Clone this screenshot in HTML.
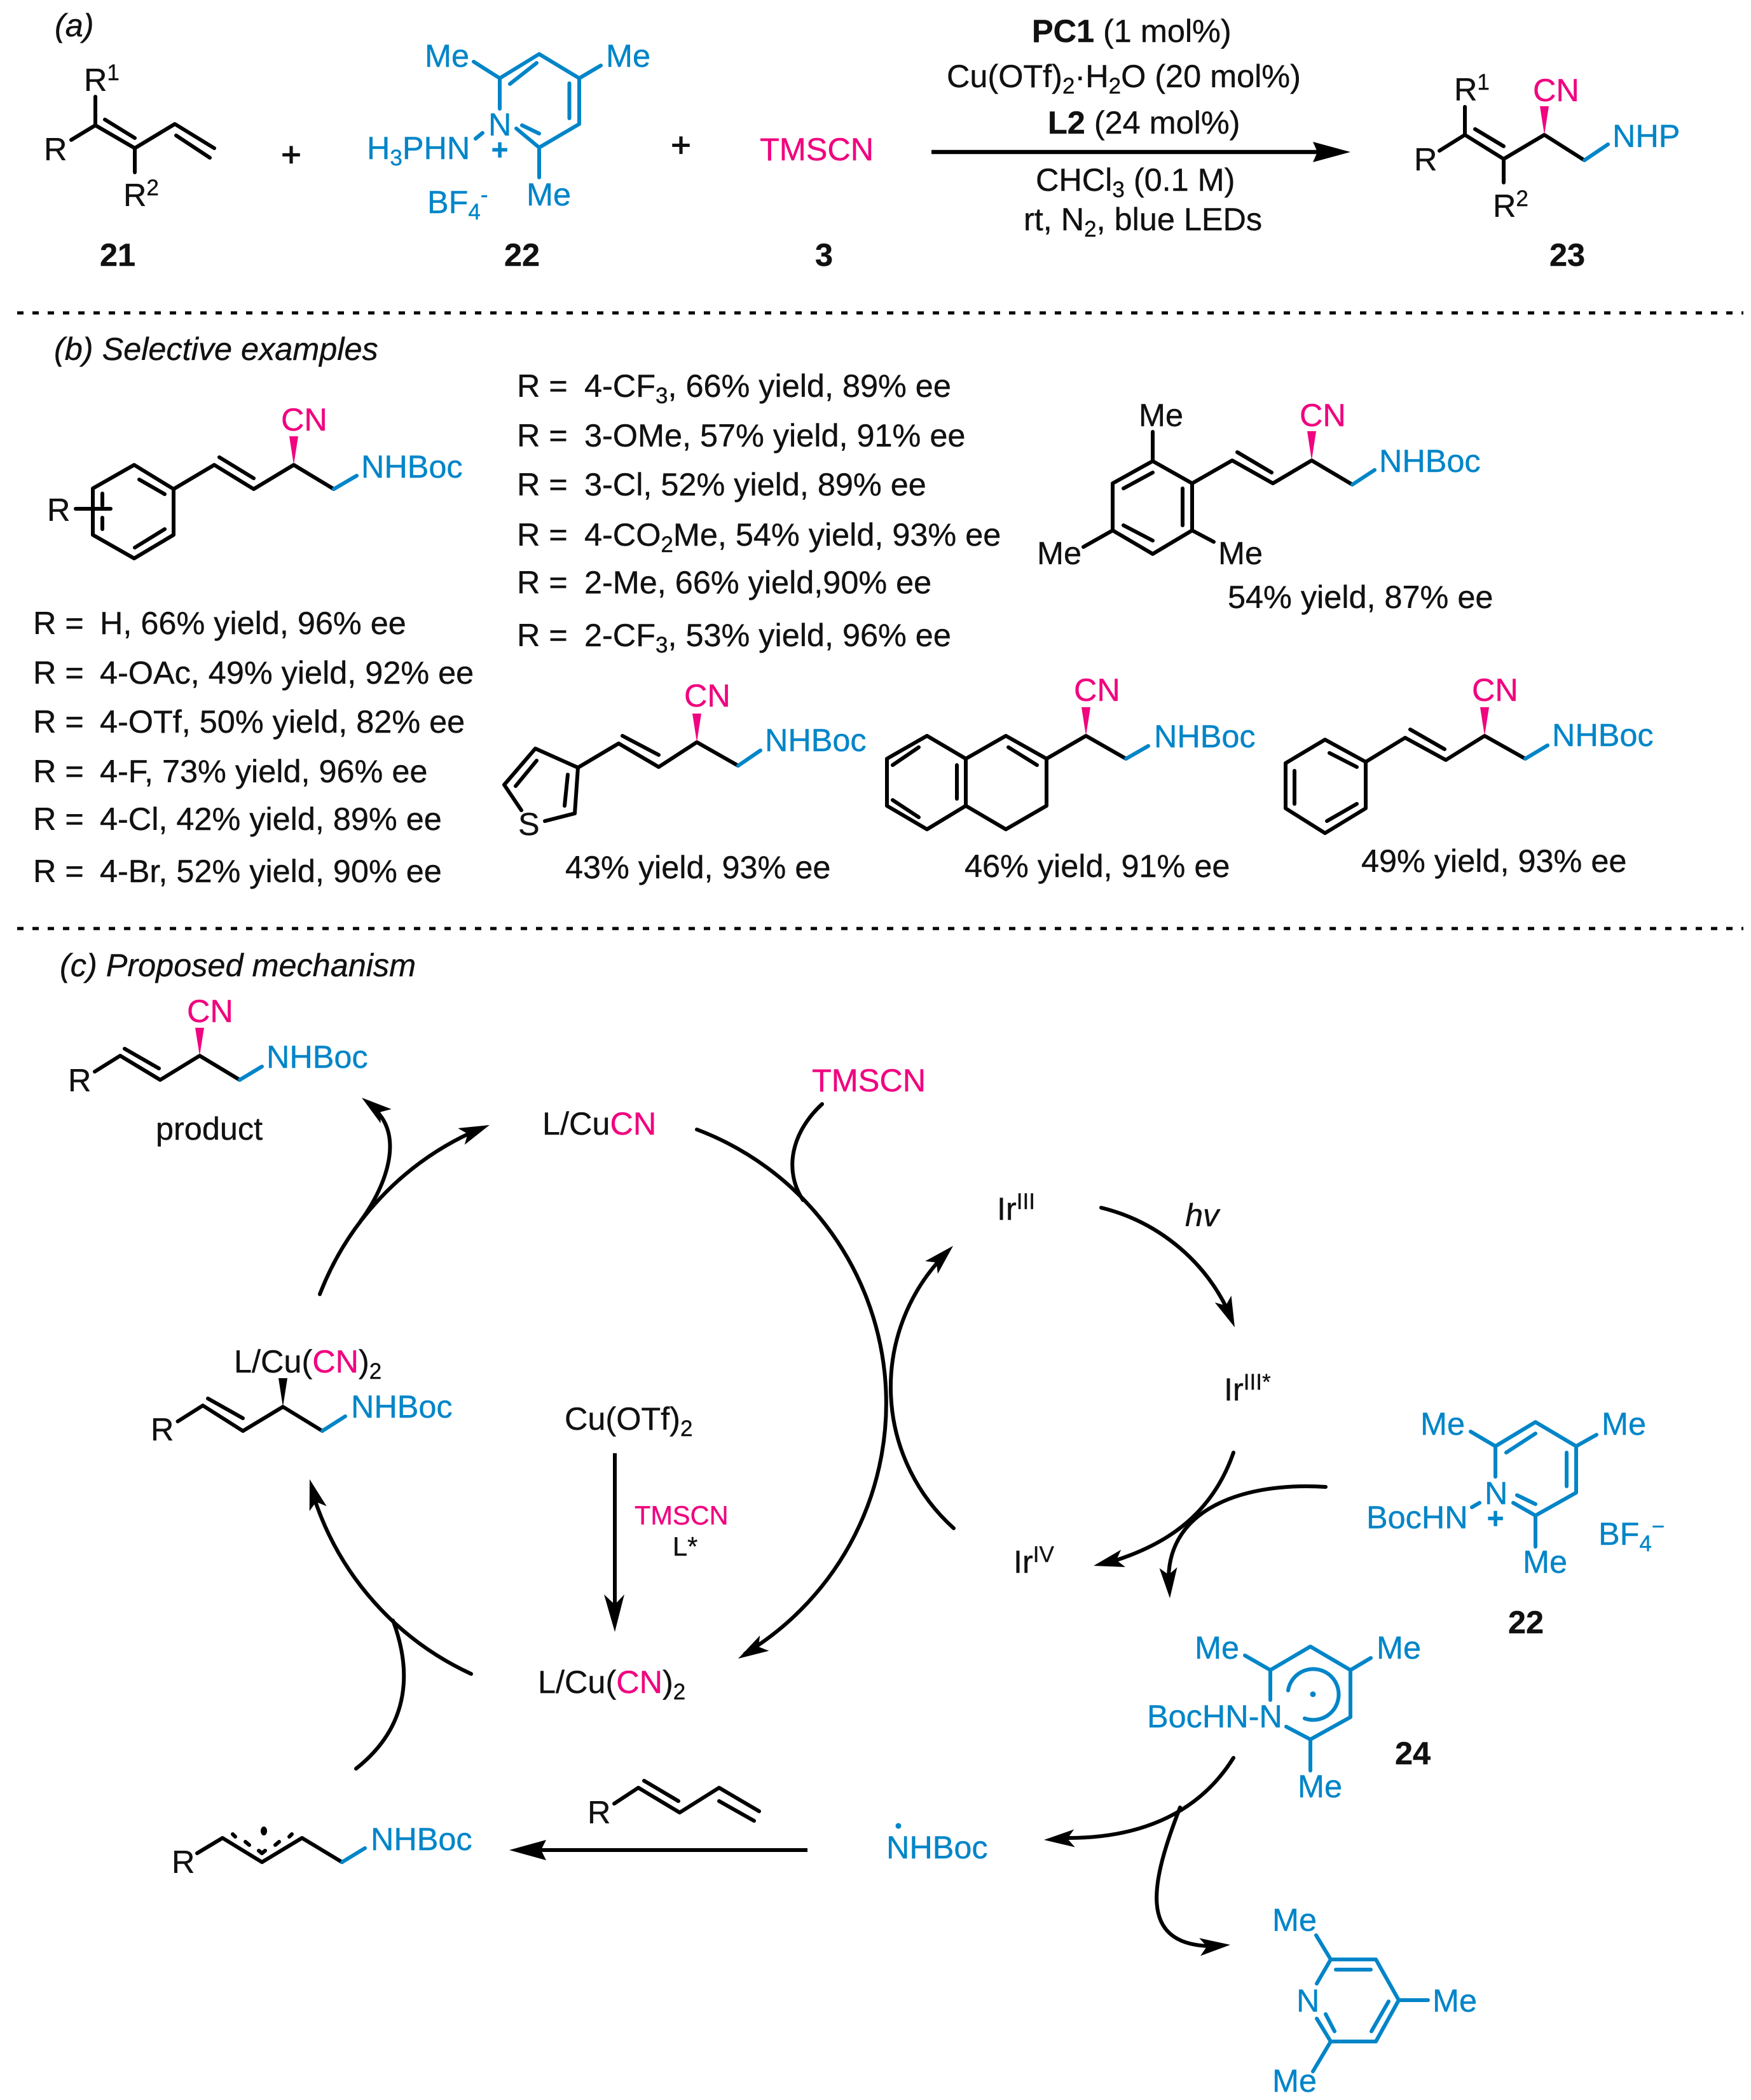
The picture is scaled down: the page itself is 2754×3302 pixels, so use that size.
<!DOCTYPE html>
<html><head><meta charset="utf-8"><title>Mechanism</title>
<style>
html,body{margin:0;padding:0;background:#fff}
svg{display:block}
text{font-family:"Liberation Sans",Arial,sans-serif;font-size:50.4px;fill:#111;stroke:#111;stroke-width:.4px;transform:translateX(-2px)}
tspan.p,text.p{fill:#f0047f;stroke:#f0047f}
text.b{fill:#0085c8;stroke:#0085c8}
.bd{font-weight:bold}.i{font-style:italic}
.s{font-size:35px}
.k{fill:none;stroke:#000;stroke-width:6;stroke-linecap:round;stroke-linejoin:round}
.u{fill:none;stroke:#0085c8;stroke-width:6;stroke-linecap:round;stroke-linejoin:round}
.a{fill:none;stroke:#000;stroke-width:6;stroke-linecap:round}
</style></head><body>
<svg xmlns="http://www.w3.org/2000/svg" width="2754" height="3302" viewBox="0 0 2754 3302">
<defs><polygon id="h" points="0,0 -48,-14 -37,0 -48,14" fill="#000"/></defs>
<rect width="2754" height="3302" fill="#fff"/>

<!-- dotted separators -->
<line x1="27" y1="492" x2="2742" y2="492" stroke="#000" stroke-width="5" stroke-dasharray="10 14"/>
<line x1="27" y1="1460" x2="2742" y2="1460" stroke="#000" stroke-width="5" stroke-dasharray="10 14"/>

<!-- (a) -->
<text class="i" x="88" y="57">(a)</text>
<path class="k" d="M150 152V197M112 220L150 197L212 233L275 195L337 233M165 188L212 217M277 213L330 248M212 233V271"/>
<text x="71" y="252">R</text>
<text x="134" y="143">R<tspan class="s" dy="-17">1</tspan></text>
<text x="196" y="324">R<tspan class="s" dy="-17">2</tspan></text>
<text text-anchor="middle" x="460" y="261" style="font-size:54px;stroke-width:1.3px">+</text>
<text text-anchor="middle" x="1073" y="246" style="font-size:54px;stroke-width:1.3px">+</text>
<path class="u" d="M786 171V123L848 85L911 123V195L848 232L812 202M745 97L786 123M945 103L911 123M844 99L802 132M895.5 131V186M821 197L848 210M848 232V279M748 218L759 209"/>
<text class="b" x="670" y="105">Me</text>
<text class="b" x="955" y="105">Me</text>
<text class="b" x="770" y="213">N</text>
<text class="b" x="579" y="250">H<tspan class="s" dy="10">3</tspan><tspan dy="-10">PHN</tspan></text>
<text class="b bd" text-anchor="middle" x="788" y="251" style="font-size:46px">+</text>
<text class="b" x="830" y="323">Me</text>
<text class="b" x="674" y="335">BF<tspan class="s" dy="10">4</tspan><tspan class="s" dy="-27">-</tspan></text>
<text class="bd" text-anchor="middle" x="187" y="418">21</text>
<text class="bd" text-anchor="middle" x="823" y="418">22</text>
<text class="bd" text-anchor="middle" x="1298" y="418">3</text>
<text class="p" x="1197" y="252">TMSCN</text>

<text x="1625" y="66"><tspan class="bd">PC1</tspan> (1 mol%)</text>
<text x="1491" y="137">Cu(OTf)<tspan class="s" dy="10">2</tspan><tspan dy="-10">·H</tspan><tspan class="s" dy="10">2</tspan><tspan dy="-10">O (20 mol%)</tspan></text>
<text x="1650" y="210"><tspan class="bd">L2</tspan> (24 mol%)</text>
<line x1="1465" y1="239" x2="2075" y2="239" stroke="#000" stroke-width="6.5"/>
<polygon points="2124,239 2065,223 2072,239 2065,255" fill="#000"/>
<text x="1631" y="300">CHCl<tspan class="s" dy="10">3</tspan><tspan dy="-10"> (0.1 M)</tspan></text>
<text x="1612" y="362">rt, N<tspan class="s" dy="10">2</tspan><tspan dy="-10">, blue LEDs</tspan></text>

<path class="k" d="M2304 168V212M2264 237L2304 212L2365 250L2429 212L2492 252M2320 203L2365 230M2365 250V287"/>
<path class="u" d="M2492 252L2529 227"/>
<polygon points="2422,167 2436,167 2429,212" fill="#f0047f"/>
<text x="2226" y="268">R</text>
<text x="2289" y="158">R<tspan class="s" dy="-17">1</tspan></text>
<text x="2350" y="341">R<tspan class="s" dy="-17">2</tspan></text>
<text class="p" x="2413" y="159">CN</text>
<text class="b" x="2538" y="231">NHP</text>
<text class="bd" x="2439" y="418">23</text>

<!-- (b) -->
<text class="i" x="87" y="566">(b) Selective examples</text>
<path class="k" d="M211 731L273 769V841L211 878L146 841V768ZM219 754L259 777M259 832L212 861M161 776V795M161 814V832M119 800H174M273 769L337 731L399 769L462 731L525 769M345 719L399 752"/>
<path class="u" d="M525 769L561 748"/>
<polygon points="455,686 469,686 462,731" fill="#f0047f"/>
<text x="76" y="819">R</text>
<text class="p" x="444" y="677">CN</text>
<text class="b" x="570" y="751">NHBoc</text>

<text x="54" y="997">R =</text><text x="159" y="997">H, 66% yield, 96% ee</text>
<text x="54" y="1075">R =</text><text x="159" y="1075">4-OAc, 49% yield, 92% ee</text>
<text x="54" y="1152">R =</text><text x="159" y="1152">4-OTf, 50% yield, 82% ee</text>
<text x="54" y="1230">R =</text><text x="159" y="1230">4-F, 73% yield, 96% ee</text>
<text x="54" y="1305">R =</text><text x="159" y="1305">4-Cl, 42% yield, 89% ee</text>
<text x="54" y="1387">R =</text><text x="159" y="1387">4-Br, 52% yield, 90% ee</text>

<text x="815" y="624">R =</text><text x="921" y="624">4-CF<tspan class="s" dy="10">3</tspan><tspan dy="-10">, 66% yield, 89% ee</tspan></text>
<text x="815" y="702">R =</text><text x="921" y="702">3-OMe, 57% yield, 91% ee</text>
<text x="815" y="779">R =</text><text x="921" y="779">3-Cl, 52% yield, 89% ee</text>
<text x="815" y="858">R =</text><text x="921" y="858">4-CO<tspan class="s" dy="10">2</tspan><tspan dy="-10">Me, 54% yield, 93% ee</tspan></text>
<text x="815" y="933">R =</text><text x="921" y="933">2-Me, 66% yield,90% ee</text>
<text x="815" y="1016">R =</text><text x="921" y="1016">2-CF<tspan class="s" dy="10">3</tspan><tspan dy="-10">, 53% yield, 96% ee</tspan></text>

<!-- mesityl -->
<path class="k" d="M1813 725L1875 760V834L1813 871L1750 834V760ZM1767 768L1813 743M1860 768V826M1767 826L1813 850M1813 679V725M1704 860L1750 834M1909 852L1875 834M1875 760L1938 724L2002 760L2063 724L2127 762M1946 711L2000 743"/>
<path class="u" d="M2127 762L2162 739"/>
<polygon points="2056,678 2070,678 2063,724" fill="#f0047f"/>
<text x="1793" y="670">Me</text><text x="1633" y="887">Me</text><text x="1918" y="887">Me</text>
<text class="p" x="2046" y="670">CN</text>
<text class="b" x="2171" y="742">NHBoc</text>
<text x="1933" y="956">54% yield, 87% ee</text>

<!-- thiophene -->
<path class="k" d="M820 1274L793 1234L842 1177L909 1207L904 1279L857 1291M844 1196L811 1236M893 1218L888 1267M909 1207L973 1169L1036 1206L1096 1167L1161 1204M979 1157L1036 1187"/>
<path class="u" d="M1161 1204L1196 1180"/>
<polygon points="1089,1122 1103,1122 1096,1167" fill="#f0047f"/>
<text x="817" y="1313">S</text>
<text class="p" x="1078" y="1111">CN</text>
<text class="b" x="1205" y="1181">NHBoc</text>
<text x="891" y="1381">43% yield, 93% ee</text>

<!-- dihydronaphthalene -->
<path class="k" d="M1458 1157L1519 1193V1267L1458 1304L1395 1267V1193ZM1404 1203L1445 1175M1404 1258L1445 1285M1505 1203V1256M1519 1193L1582 1157L1646 1193V1267L1582 1304L1519 1267M1586 1175L1631 1203M1646 1193L1708 1157L1771 1193"/>
<path class="u" d="M1771 1193L1806 1173"/>
<polygon points="1701,1112 1715,1112 1708,1157" fill="#f0047f"/>
<text class="p" x="1691" y="1102">CN</text>
<text class="b" x="1817" y="1175">NHBoc</text>
<text x="1519" y="1379">46% yield, 91% ee</text>

<!-- phenyl -->
<path class="k" d="M2084 1163L2148 1198V1271L2084 1310L2022 1271V1200ZM2091 1184L2134 1206M2134 1264L2087 1291M2036 1212V1264M2148 1198L2210 1160L2274 1195L2335 1157L2399 1193M2218 1147L2272 1178"/>
<path class="u" d="M2399 1193L2434 1172"/>
<polygon points="2328,1112 2342,1112 2335,1157" fill="#f0047f"/>
<text class="p" x="2317" y="1102">CN</text>
<text class="b" x="2443" y="1173">NHBoc</text>
<text x="2143" y="1371">49% yield, 93% ee</text>

<!-- (c) -->
<text class="i" x="96" y="1535">(c) Proposed mechanism</text>
<path class="k" d="M149 1685L189 1660L252 1698L314 1660L377 1698M196 1649L250 1680"/>
<path class="u" d="M377 1698L412 1677"/>
<polygon points="307,1616 321,1616 314,1660" fill="#f0047f"/>
<text x="109" y="1716">R</text>
<text class="p" x="296" y="1607">CN</text>
<text class="b" x="421" y="1679">NHBoc</text>
<text x="247" y="1792">product</text>

<text x="855" y="1784">L/Cu<tspan class="p">CN</tspan></text>
<text class="p" x="1279" y="1716">TMSCN</text>

<!-- cycle arcs -->
<path class="a" d="M503 2035A464 464 0 0 1 745 1779"/>
<use href="#h" transform="translate(770 1769) rotate(-22)"/>
<path class="a" d="M567 1920C603 1872 638 1790 590 1745"/>
<use href="#h" transform="translate(569 1726) rotate(-142.6)"/>
<path class="a" d="M1096 1776A460 460 0 0 1 1172 2600"/>
<use href="#h" transform="translate(1161 2608) rotate(149.5)"/>
<path class="a" d="M1293 1736C1245 1780 1232 1840 1263 1887"/>
<path class="a" d="M741 2632A464 464 0 0 1 494 2355"/>
<use href="#h" transform="translate(487 2326) rotate(-106)"/>
<path class="a" d="M618 2548C645 2620 650 2710 560 2781"/>

<text x="370" y="2158">L/Cu(<tspan class="p">CN</tspan>)<tspan class="s" dy="10">2</tspan></text>
<path class="k" d="M279.5 2235L319 2210L382 2250L445 2212L507 2250M327 2199L382 2230"/>
<path class="u" d="M507 2250L543 2227"/>
<polygon points="438,2167 452,2167 445,2212" fill="#000"/>
<text x="239" y="2265">R</text>
<text class="b" x="554" y="2229">NHBoc</text>

<text x="890" y="2248">Cu(OTf)<tspan class="s" dy="10">2</tspan></text>
<line x1="967" y1="2285" x2="967" y2="2530" stroke="#000" stroke-width="6"/>
<polygon points="967,2566 950,2507 967,2523 982,2507" fill="#000"/>
<text class="p" x="1000" y="2397" style="font-size:41.5px">TMSCN</text>
<text x="1060" y="2446" style="font-size:41.5px">L*</text>
<text x="848" y="2662">L/Cu(<tspan class="p">CN</tspan>)<tspan class="s" dy="10">2</tspan></text>

<!-- Ir cycle -->
<text x="1570" y="1918">Ir<tspan class="s" dy="-17">III</tspan></text>
<text class="i" x="1866" y="1928">hv</text>
<text x="1927" y="2202">Ir<tspan class="s" dy="-17">III*</tspan></text>
<text x="1596" y="2473">Ir<tspan class="s" dy="-17">IV</tspan></text>
<path class="a" d="M1500 2403A298 298 0 0 1 1480 1979"/>
<use href="#h" transform="translate(1499 1959) rotate(-45)"/>
<path class="a" d="M1732 1899A300 300 0 0 1 1930 2058"/>
<use href="#h" transform="translate(1942 2087) rotate(67.5)"/>
<path class="a" d="M1940 2284C1905 2385 1830 2430 1750 2455"/>
<use href="#h" transform="translate(1720 2462) rotate(166)"/>
<path class="a" d="M2085 2338C1960 2330 1840 2370 1838 2480"/>
<use href="#h" transform="translate(1840 2513) rotate(87)"/>

<!-- 22 in mechanism -->
<path class="u" d="M2352 2322V2274L2415 2236L2479 2274V2347L2415 2383L2380 2363M2313 2251L2352 2274M2511 2256L2479 2274M2369 2284L2415 2254M2464 2284V2337M2386 2351L2415 2365M2415 2383V2432M2315 2370L2327 2363"/>
<text class="b" x="2236" y="2256">Me</text>
<text class="b" x="2521" y="2256">Me</text>
<text class="b" x="2337" y="2365">N</text>
<text class="b" x="2151" y="2403">BocHN</text>
<text class="b bd" text-anchor="middle" x="2354" y="2403" style="font-size:46px">+</text>
<text class="b" x="2397" y="2473">Me</text>
<text class="b" x="2516" y="2429">BF<tspan class="s" dy="10">4</tspan><tspan class="s" dy="-27">−</tspan></text>
<text class="bd" x="2374" y="2568">22</text>

<!-- 24 -->
<path class="u" d="M1998 2673V2626L2061 2589L2124 2626V2700L2061 2735L2023 2715M1958 2603L1998 2626M2156 2607L2124 2626M2061 2735V2784"/>
<path class="u" d="M2026 2658A40 40 0 1 1 2052 2702"/>
<circle cx="2065" cy="2664" r="4.5" fill="#0085c8"/>
<text class="b" x="1881" y="2608">Me</text>
<text class="b" x="2167" y="2608">Me</text>
<text class="b" x="1806" y="2716">BocHN-N</text>
<text class="b" x="2043" y="2826">Me</text>
<text class="bd" x="2196" y="2774">24</text>

<path class="a" d="M1940 2764C1880 2860 1780 2890 1680 2890"/>
<use href="#h" transform="translate(1642 2893) rotate(177)"/>
<path class="a" d="M1856 2842C1810 2960 1790 3055 1900 3060"/>
<use href="#h" transform="translate(1935 3058) rotate(-4)"/>

<circle cx="1413" cy="2871" r="4.5" fill="#0085c8"/>
<text class="b" x="1396" y="2922">NHBoc</text>

<!-- collidine -->
<path class="u" d="M2071 3119L2093 3081H2164L2200 3145L2164 3210H2093L2071 3174M2101 3097H2156M2184 3147L2157 3194M2085 3167L2099 3194M2070 3043L2093 3081M2200 3145H2246M2093 3210L2065 3257"/>
<text class="b" x="2041" y="3163">N</text>
<text class="b" x="2003" y="3036">Me</text>
<text class="b" x="2255" y="3163">Me</text>
<text class="b" x="2003" y="3289">Me</text>

<!-- bottom -->
<line x1="1270" y1="2909" x2="840" y2="2909" stroke="#000" stroke-width="6"/>
<polygon points="801,2909 859,2893 851,2909 859,2925" fill="#000"/>
<path class="k" d="M966 2836L1004 2811L1069 2850L1131 2811L1194 2848M1013 2800L1067 2832M1131 2832L1186 2863"/>
<text x="926" y="2867">R</text>
<path class="k" d="M310 2914L350 2890L412 2928L475 2890L538 2928"/>
<path class="u" d="M538 2928L574 2906"/>
<ellipse cx="415" cy="2879" rx="5" ry="7" fill="#000"/>
<path class="k" d="M366 2884L370 2888M386 2896L392 2901M407 2910L412 2914L417 2910M433 2901L439 2896M455 2888L459 2884"/>
<text x="272" y="2945">R</text>
<text class="b" x="585" y="2909">NHBoc</text>
</svg>
</body></html>
